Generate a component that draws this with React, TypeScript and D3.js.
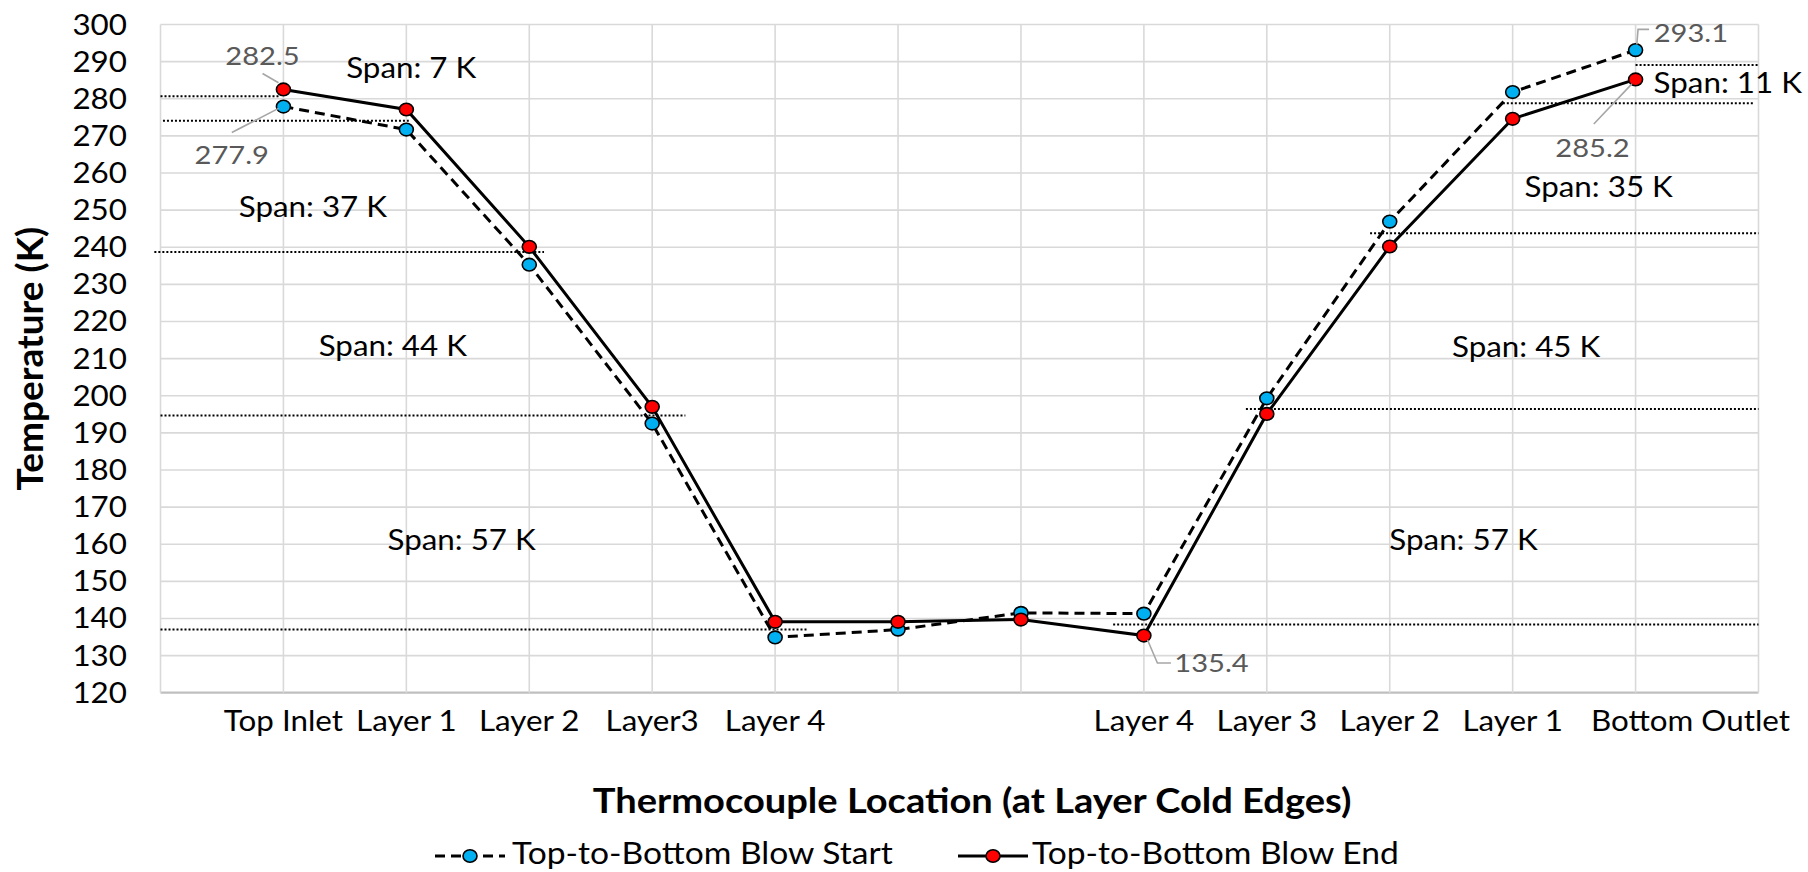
import React from "react";
import * as d3 from "d3";

// ---------- data ----------
const categories = ["", "Top Inlet", "Layer 1", "Layer 2", "Layer3", "Layer 4", "", "", "Layer 4", "Layer 3", "Layer 2", "Layer 1", "Bottom Outlet", ""];
const startValues: (number | null)[] = [null, 277.9, 271.7, 235.3, 192.5, 134.9, 137.0, 141.5, 141.3, 199.3, 246.9, 281.8, 293.1, null];
const endValues: (number | null)[] = [null, 282.5, 277.1, 240.1, 197.0, 139.1, 139.1, 139.7, 135.4, 195.1, 240.2, 274.6, 285.2, null];
const yTicks = d3.range(120, 301, 10);
const seriesNames = ["Top-to-Bottom Blow Start", "Top-to-Bottom Blow End"];

// span reference lines: temperature, from/to in category units
const spanLines = [
  { value: 280.7, from: 0, to: 0.97 },
  { value: 274.1, from: 0.02, to: 2.02 },
  { value: 238.7, from: -0.05, to: 3.12 },
  { value: 194.7, from: 0, to: 4.27 },
  { value: 137.0, from: 0, to: 5.27 },
  { value: 138.4, from: 7.75, to: 13 },
  { value: 196.4, from: 8.83, to: 13 },
  { value: 243.8, from: 9.84, to: 13 },
  { value: 278.8, from: 10.92, to: 12.97 },
  { value: 289.1, from: 12, to: 13 },
];
const spanTexts = [
  { text: "Span: 7 K", at: 2.04, value: 288.3 },
  { text: "Span: 37 K", at: 1.24, value: 250.8 },
  { text: "Span: 44 K", at: 1.89, value: 213.5 },
  { text: "Span: 57 K", at: 2.45, value: 161.1 },
  { text: "Span: 11 K", at: 12.75, value: 284.2 },
  { text: "Span: 35 K", at: 11.7, value: 256.3 },
  { text: "Span: 45 K", at: 11.11, value: 213.2 },
  { text: "Span: 57 K", at: 10.6, value: 161.1 },
];
// data labels: series (0 start, 1 end), index, label position and leader path (category units, K)
const dataLabels = [
  { series: 1, index: 1, at: 0.83, value: 291.5, leader: [[0.83, 286.8], [0.96, 284.3]] },
  { series: 0, index: 1, at: 0.58, value: 264.8, leader: [[0.58, 270.9], [0.96, 277.4]] },
  { series: 0, index: 12, at: 12.45, value: 297.7, leader: [[12.11, 298.7], [12.02, 298.7], [12.01, 294.6]] },
  { series: 1, index: 12, at: 11.65, value: 266.7, leader: [[11.66, 273.2], [11.97, 284.0]] },
  { series: 1, index: 8, at: 8.55, value: 128.0, leader: [[8.03, 134.2], [8.11, 128.0], [8.22, 128.0]] },
];

// ---------- layout ----------
const W = 1808;
const H = 872;
const plotLeft = 160.5;
const plotRight = 1758.5;
const plotTop = 24.5;
const plotBottom = 692.7;
const SX = 1.12; // horizontal stretch of the text
const FONT = "Lato, 'Open Sans', sans-serif";
const BLUE = "#00B0F0";
const RED = "#FF0000";

const x = d3.scaleLinear().domain([0, categories.length - 1]).range([plotLeft, plotRight]);
const y = d3.scaleLinear().domain([120, 300]).range([plotBottom, plotTop]);

function T({ x: tx, y: ty, anchor = "middle", size = 28, weight = 400, fill = "#000", children, rotate = 0, sx = SX }: any) {
  return (
    <g transform={`translate(${tx},${ty}) rotate(${rotate}) scale(${sx},1)`}>
      <text x={0} y={0} textAnchor={anchor} fontFamily={FONT} fontSize={size} fontWeight={weight} fill={fill}>
        {children}
      </text>
    </g>
  );
}

export default function App() {
  const line = d3
    .line<number | null>()
    .defined((d) => d != null)
    .x((_, i) => x(i))
    .y((d) => y(d as number));

  const series = [
    { values: startValues, color: BLUE, dash: "10,6" },
    { values: endValues, color: RED, dash: undefined },
  ];

  return (
    <svg width={W} height={H} style={{ position: "fixed", left: 0, top: 0, background: "#fff" }}>
      <rect x={0} y={0} width={W} height={H} fill="#fff" />
      {/* horizontal gridlines */}
      {yTicks.map((t) => (
        <line key={"h" + t} x1={plotLeft} x2={plotRight} y1={y(t)} y2={y(t)} stroke={t === 120 ? "#bfbfbf" : "#d9d9d9"} strokeWidth={t === 120 ? 2.2 : 1.6} />
      ))}
      {/* vertical gridlines */}
      {categories.map((_, i) => (
        <line key={"v" + i} x1={x(i)} x2={x(i)} y1={plotTop} y2={plotBottom} stroke="#d9d9d9" strokeWidth={1.6} />
      ))}
      {/* y tick labels */}
      {yTicks.map((t) => (
        <T key={"yl" + t} x={127} y={y(t) + 10} anchor="end" size={28}>
          {t}
        </T>
      ))}
      {/* x labels */}
      {categories.map((c, i) =>
        c ? (
          i === categories.length - 2 ? (
            <T key={"xl" + i} x={W - 18} y={731} anchor="end" size={28}>
              {c}
            </T>
          ) : (
            <T key={"xl" + i} x={x(i)} y={731} size={28}>
              {c}
            </T>
          )
        ) : null
      )}
      {/* span dotted lines */}
      {spanLines.map((s, i) => (
        <line key={"sl" + i} x1={x(s.from)} x2={x(s.to)} y1={y(s.value)} y2={y(s.value)} stroke="#000" strokeWidth={2} strokeDasharray="2,2" />
      ))}
      {/* series lines */}
      {series.map((s, k) => (
        <path key={"ln" + k} d={line(s.values) || ""} fill="none" stroke="#000" strokeWidth={3} strokeDasharray={s.dash} />
      ))}
      {/* markers */}
      {series.map((s, k) =>
        s.values.map((v, i) =>
          v == null ? null : (
            <ellipse key={"m" + k + "-" + i} cx={x(i)} cy={y(v)} rx={7} ry={6.3} fill={s.color} stroke="#000" strokeWidth={1.6} />
          )
        )
      )}
      {/* span texts */}
      {spanTexts.map((s, i) => (
        <T key={"st" + i} x={x(s.at)} y={y(s.value) + 10} size={28}>
          {s.text}
        </T>
      ))}
      {/* data labels */}
      {dataLabels.map((d, i) => {
        const val = (d.series === 0 ? startValues : endValues)[d.index] as number;
        return (
          <g key={"dl" + i}>
            <polyline
              points={d.leader.map((p) => `${x(p[0])},${y(p[1])}`).join(" ")}
              fill="none"
              stroke="#a6a6a6"
              strokeWidth={1.6}
            />
            <T x={x(d.at)} y={y(d.value) + 9} size={26} fill="#595959">
              {val.toFixed(1)}
            </T>
          </g>
        );
      })}
      {/* axis titles */}
      <T x={43} y={(plotTop + plotBottom) / 2} rotate={-90} sx={1} size={37} weight={700}>
        Temperature (K)
      </T>
      <T x={972} y={813} size={34} weight={700}>
        Thermocouple Location (at Layer Cold Edges)
      </T>
      {/* legend */}
      <g>
        <line x1={435} x2={505} y1={856} y2={856} stroke="#000" strokeWidth={3} strokeDasharray="10,6" />
        <ellipse cx={470} cy={856} rx={7} ry={6.3} fill={BLUE} stroke="#000" strokeWidth={1.6} />
        <T x={512} y={864} anchor="start" size={30}>
          {seriesNames[0]}
        </T>
        <line x1={958} x2={1028} y1={856} y2={856} stroke="#000" strokeWidth={3} />
        <ellipse cx={993} cy={856} rx={7} ry={6.3} fill={RED} stroke="#000" strokeWidth={1.6} />
        <T x={1032} y={864} anchor="start" size={30}>
          {seriesNames[1]}
        </T>
      </g>
    </svg>
  );
}
